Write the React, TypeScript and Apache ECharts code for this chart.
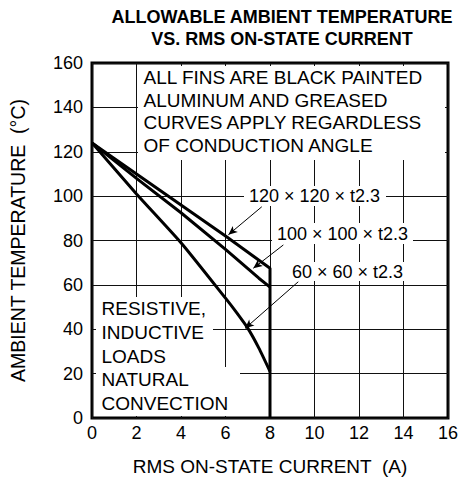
import React, { useEffect, useRef } from "react";
import * as echarts from "echarts";

const FONT = "'Liberation Sans', Arial, Helvetica, sans-serif";

const titleLines = ["ALLOWABLE AMBIENT TEMPERATURE", "VS. RMS ON-STATE CURRENT"];
const xAxisName = "RMS ON-STATE CURRENT  (A)";
const yAxisName = "AMBIENT TEMPERATURE  (°C)";
const xTickValues = [0, 2, 4, 6, 8, 10, 12, 14, 16];
const yTickValues = [0, 20, 40, 60, 80, 100, 120, 140, 160];

const seriesNames = ["120 × 120 × t2.3", "100 × 100 × t2.3", "60 × 60 × t2.3"];
const fin120X = [0, 2, 4, 6, 8, 8];
const fin120Y = [124, 110, 96, 82, 67.5, 0];
const fin100X = [0, 2, 4, 6, 7.5, 8];
const fin100Y = [124, 108, 92.5, 76, 63, 59];
const fin60X = [0, 2, 4, 6, 6.5, 7, 7.5, 8];
const fin60Y = [124, 101, 79, 54, 47.5, 40.5, 31.5, 21];

const noteTop = ["ALL FINS ARE BLACK PAINTED", "ALUMINUM AND GREASED", "CURVES APPLY REGARDLESS", "OF CONDUCTION ANGLE"];
const noteBottom = ["RESISTIVE,", "INDUCTIVE", "LOADS", "NATURAL", "CONVECTION"];

// leader lines (data coordinates): from label to curve
const leaderLines = [
  [[7.63, 95.2], [6.13, 82.6]],
  [[8.6, 78], [7.25, 67.5]],
  [[9.27, 61.4], [6.88, 40.4]],
];

const pairs = (xs: number[], ys: number[]) => xs.map((x, i) => [x, ys[i]]);

export default function App() {
  const ref = useRef<HTMLDivElement>(null);
  useEffect(() => {
    if (!ref.current) return;
    const chart = echarts.init(ref.current, undefined, { renderer: "svg" });
    const seriesData = [pairs(fin120X, fin120Y), pairs(fin100X, fin100Y), pairs(fin60X, fin60Y)];
    const smoothness = [0, 0, 0.2];
    const txt = (text: string, x: number, y: number, font: string, align = "left", vAlign = "middle", lineHeight?: number) => ({
      type: "text",
      z: 60,
      silent: true,
      style: {
        text,
        x,
        y,
        font,
        fill: "#000",
        align,
        verticalAlign: vAlign,
        textAlign: align,
        textVerticalAlign: vAlign,
        lineHeight,
      },
    });
    const box = (x: number, y: number, width: number, height: number) => ({
      type: "rect",
      z: 50,
      silent: true,
      shape: { x, y, width, height },
      style: { fill: "#fff" },
    });
    const option: any = {
      animation: false,
      backgroundColor: "#fff",
      grid: {
        left: 92,
        right: 15,
        top: 63,
        bottom: 78,
        show: true,
        borderColor: "#000",
        borderWidth: 3,
        backgroundColor: "transparent",
      },
      xAxis: {
        type: "value",
        min: xTickValues[0],
        max: xTickValues[xTickValues.length - 1],
        interval: xTickValues[1] - xTickValues[0],
        name: xAxisName,
        nameLocation: "middle",
        nameGap: 39,
        nameTextStyle: { fontSize: 19, fontFamily: FONT, color: "#000" },
        axisLine: { show: false },
        axisTick: { show: false },
        axisLabel: { fontSize: 18, fontFamily: FONT, color: "#000", margin: 6 },
        splitLine: { show: true, lineStyle: { color: "#111", width: 1 } },
      },
      yAxis: {
        type: "value",
        min: yTickValues[0],
        max: yTickValues[yTickValues.length - 1],
        interval: yTickValues[1] - yTickValues[0],
        name: yAxisName,
        nameLocation: "middle",
        nameGap: 64,
        nameRotate: 90,
        nameTextStyle: { fontSize: 19.5, fontFamily: FONT, color: "#000" },
        axisLine: { show: false },
        axisTick: { show: false },
        axisLabel: { fontSize: 18, fontFamily: FONT, color: "#000", margin: 9 },
        splitLine: { show: true, lineStyle: { color: "#111", width: 1 } },
      },
      series: seriesData.map((data, i) => ({
        name: seriesNames[i],
        type: "line",
        data,
        showSymbol: false,
        symbol: "none",
        smooth: smoothness[i],
        lineStyle: { color: "#000", width: 3 },
        z: 5,
        markLine: {
          silent: true,
          symbol: ["none", "arrow"],
          symbolSize: [6, 9],
          label: { show: false },
          lineStyle: { color: "#000", width: 1, type: "solid" },
          data: [[{ coord: leaderLines[i][0] }, { coord: leaderLines[i][1] }]],
        },
      })),
      graphic: [
        txt(titleLines[0], 282, 17, `bold 18px ${FONT}`, "center"),
        txt(titleLines[1], 282, 39, `bold 18px ${FONT}`, "center"),
        box(138, 66, 307, 94),
        txt(noteTop.join("\n"), 143.5, 66, `19px ${FONT}`, "left", "top", 22.7),
        box(96, 297, 117, 70),
        box(96, 367, 144, 49),
        txt(noteBottom.join("\n"), 101.5, 297, `19px ${FONT}`, "left", "top", 23.7),
        box(244, 186, 142, 20),
        txt(seriesNames[0], 249, 196, `18px ${FONT}`),
        box(272, 223, 141, 21),
        txt(seriesNames[1], 277, 233.5, `18px ${FONT}`),
        box(287, 262, 120, 19),
        txt(seriesNames[2], 292, 272, `18px ${FONT}`),
      ],
    };
    chart.setOption(option);
    return () => chart.dispose();
  }, []);
  return (
    <div
      ref={ref}
      style={{ position: "fixed", left: 0, top: 0, width: 463, height: 496, background: "#fff" }}
    />
  );
}
